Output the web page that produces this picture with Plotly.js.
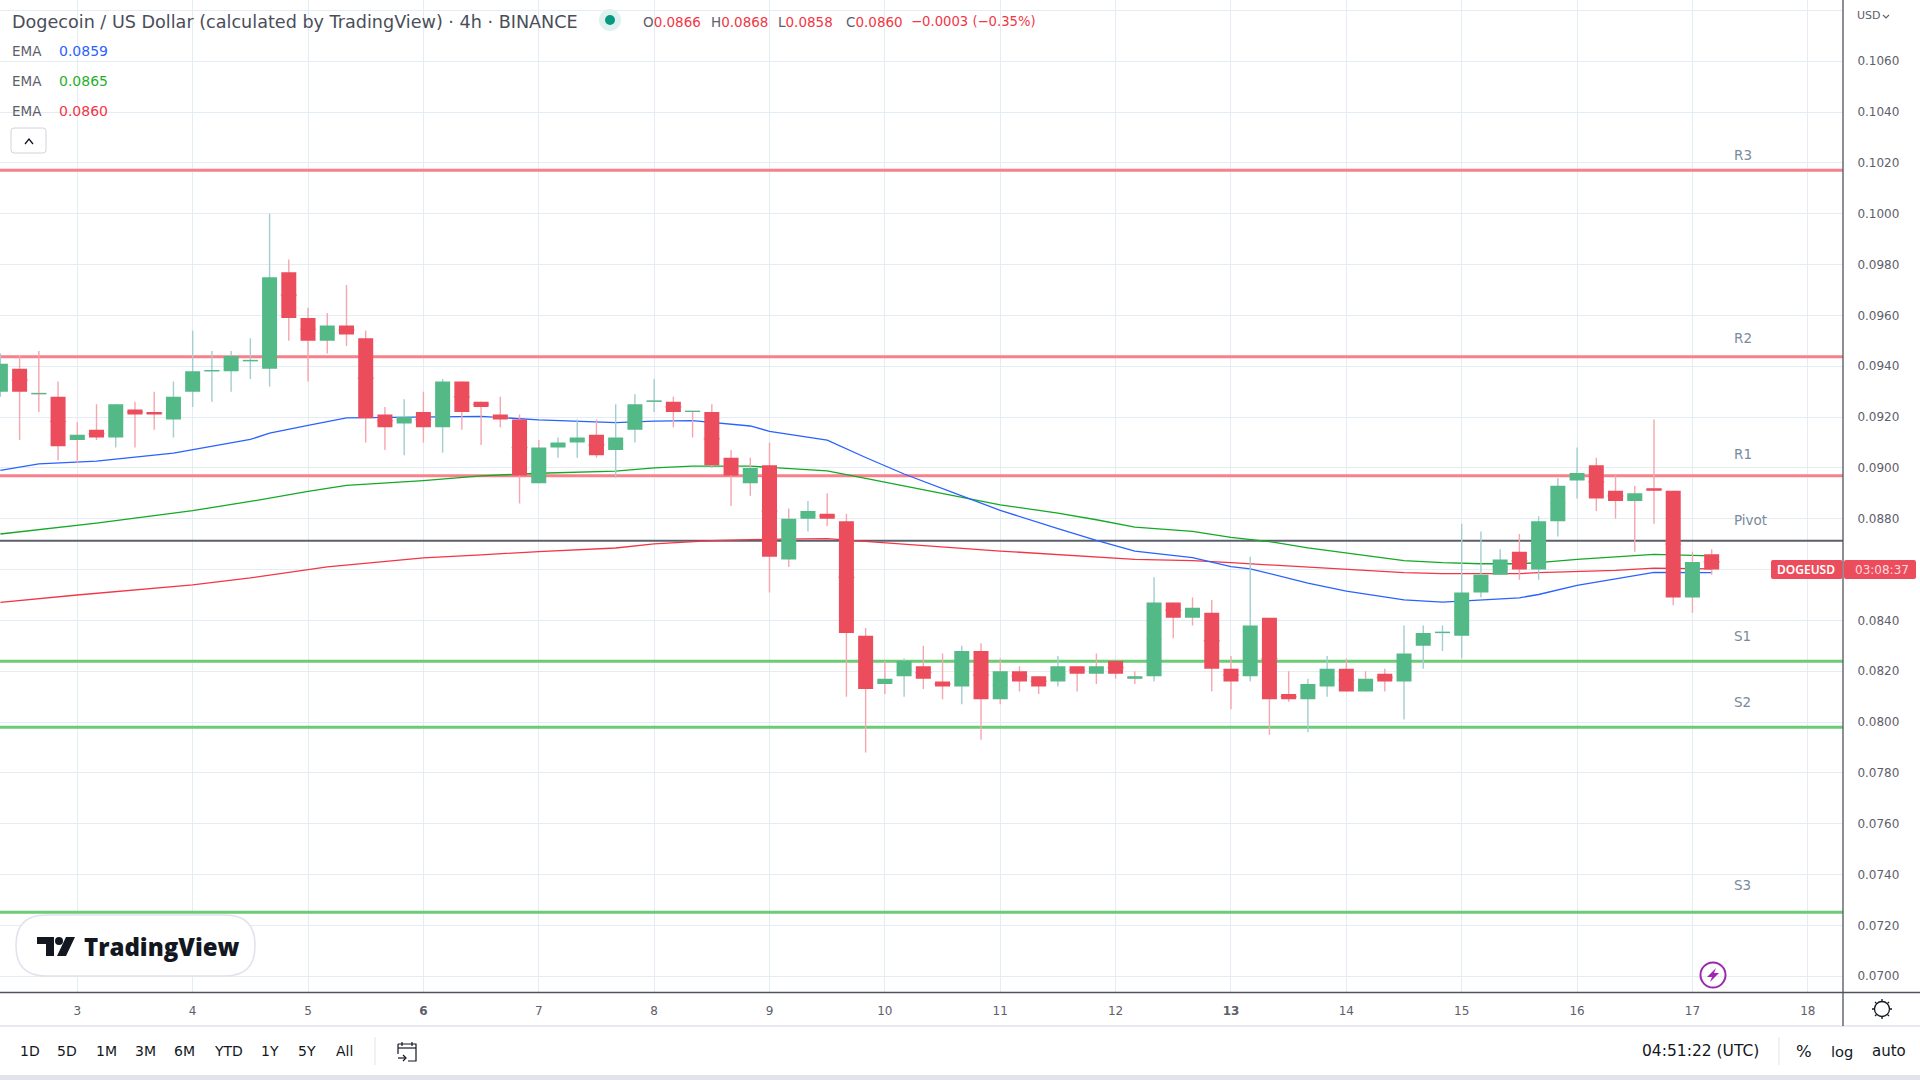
<!DOCTYPE html>
<html><head><meta charset="utf-8">
<script src="https://cdn.plot.ly/plotly-3.0.1.min.js"></script>
<style>html,body{margin:0;padding:0;background:#fff;overflow:hidden}</style>
</head><body><div id="chart" style="width:1920px;height:1080px"></div>
<script>
const firstCandleDay = 2 + 1/3;
const open  = [.0930,.0939,.0929,.0928,.0911,.0915,.0912,.0923,.0922,.0919,.0930,.0938,.0938,.0942,.0939,.0977,.0959,.0950,.0956,.0951,.0921,.09175,.0922,.0916,.0934,.0926,.0921,.0919,.0894,.0908,.0910,.0913,.0907,.0915,.0926,.0926,.0922,.0922,.0904,.0894,.0901,.0864,.0880,.0882,.0879,.0834,.0815,.0818,.0822,.0816,.0814,.0828,.0809,.0820,.0818,.0816,.0822,.0819,.0824,.0817,.0818,.0847,.0841,.0843,.0821,.0818,.0841,.0811,.0809,.0814,.0821,.0812,.0819,.0816,.0830,.0835,.0834,.0851,.0858,.0867,.0860,.0879,.0895,.0901,.0891,.0887,.0892,.0891,.0849,.0866];
const high  = [.0945,.0944,.0946,.0934,.0918,.0925,.0925,.0926,.0930,.0934,.0954,.0946,.0946,.0951,.1000,.0982,.0963,.0961,.0972,.0954,.0924,.0927,.0930,.0935,.0934,.0926,.0928,.0921,.0911,.0912,.0919,.0919,.0925,.0929,.0935,.0928,.09225,.0925,.0907,.0904,.0910,.0884,.0887,.0890,.0882,.0837,.0824,.0825,.0830,.0827,.0830,.0831,.0825,.0822,.0818,.0826,.0822,.0827,.0824,.0820,.0857,.0847,.0849,.0848,.0826,.0865,.0841,.0820,.0817,.0826,.0825,.0820,.0821,.0838,.0838,.0838,.0878,.0875,.0868,.0874,.0881,.0896,.0908,.0904,.0897,.0893,.0919,.0891,.0867,.0868];
const low   = [.0928,.0911,.0922,.0903,.0902,.0911,.0908,.0908,.0915,.0912,.0924,.0926,.0930,.0935,.0932,.0950,.0934,.0945,.0948,.0910,.0907,.0905,.0910,.0906,.0915,.0909,.0916,.0886,.0894,.0904,.0904,.0904,.0896,.0910,.0922,.0916,.0912,.0900,.0885,.0889,.0851,.0861,.0875,.0877,.0810,.0788,.0811,.0810,.0813,.0809,.0807,.0793,.0807,.0812,.0811,.0814,.0812,.0815,.0817,.0815,.0816,.0833,.0838,.0812,.0805,.0816,.0795,.0808,.0796,.0810,.0812,.0812,.0812,.0801,.0821,.0828,.0825,.0849,.0858,.0856,.0856,.0873,.0888,.0883,.0880,.0867,.0878,.0846,.0843,.0858];
const close = [.0941,.0930,.09295,.09085,.0913,.0912,.0925,.0921,.0921,.0928,.0938,.09385,.0944,.09425,.0975,.0959,.0950,.0956,.09525,.09195,.0916,.0920,.0916,.0934,.0922,.0924,.0919,.0897,.0908,.0910,.0912,.0905,.0912,.0925,.09265,.0922,.09225,.0901,.0897,.0900,.0865,.0880,.0883,.0880,.0835,.0813,.0817,.0824,.0817,.0814,.0828,.0809,.0820,.0816,.0814,.0822,.0819,.0822,.0819,.0818,.0847,.0841,.0845,.0821,.0816,.0838,.0809,.0809,.0815,.0821,.0812,.0817,.0816,.0827,.0835,.08355,.0851,.0858,.0864,.0860,.0879,.0893,.0898,.0888,.0887,.0890,.0891,.0849,.0863,.0860];

const blueEmaCandle  = [0,2,5,9,13,14,16,18,25,28,32,34,36,39,40,43,45,47,50,52,55,57,59,62,64,65,68,70,73,75,79,80,82,84,86,89];
const blueEmaValue   = [.0899,.09016,.09027,.09058,.09112,.09137,.09167,.09197,.09203,.09189,.09178,.09184,.09186,.09165,.09144,.09109,.09041,.08976,.0889,.08833,.08761,.08715,.08673,.08647,.08612,.08603,.08547,.08515,.08481,.08472,.08489,.08502,.08538,.08564,.08589,.08588];
const greenEmaCandle = [0,5,10,13,16,18,22,25,28,32,34,36,39,43,45,46,50,52,55,57,59,62,64,66,68,70,73,75,77,79,80,82,84,86,89];
const greenEmaValue  = [.0874,.08783,.08832,.08868,.08908,.08931,.0895,.08969,.08979,.08987,.09,.09007,.09007,.08988,.08959,.08944,.08887,.08855,.08822,.08796,.08767,.0875,.08727,.0871,.08685,.08665,.08635,.08627,.08623,.08623,.08627,.0864,.08649,.0866,.08654];
const redEmaCandle   = [0,4,10,13,17,22,25,28,32,34,37,39,43,46,50,52,59,62,64,70,73,75,79,80,84,86,89];
const redEmaValue    = [.08471,.0850,.0854,.08567,.08611,.08646,.08658,.08671,.08685,.08701,.08714,.08718,.08722,.08706,.08685,.08673,.0864,.08635,.08627,.0860,.08588,.08584,.08584,.08588,.08597,.08606,.08603];

const pivotNames  = ['R3','R2','R1','Pivot','S1','S2','S3'];
const pivotValues = [.10171,.09437,.08969,.08713,.08239,.07980,.07252];
const pivotColors = ['#f7808a','#f7808a','#f7808a','#5d606b','#6ccb75','#6ccb75','#6ccb75'];

const priceTicks  = [.07,.072,.074,.076,.078,.08,.082,.084,.086,.088,.09,.092,.094,.096,.098,.1,.102,.104,.106,.108];
const priceLabels = ['0.0700','0.0720','0.0740','0.0760','0.0780','0.0800','0.0820','0.0840','','0.0880','0.0900','0.0920','0.0940','0.0960','0.0980','0.1000','0.1020','0.1040','0.1060',''];
const dayTicks    = [3,4,5,6,7,8,9,10,11,12,13,14,15,16,17,18];
const dayLabels   = ['3','4','5','<b>6</b>','7','8','9','10','11','12','<b>13</b>','14','15','16','17','18'];
const rangeButtons = ['1D','5D','1M','3M','6M','YTD','1Y','5Y','All'];

const W=1920,H=1080,PW=1843,PH=992;
const XRANGE=[2.330,18.305], YRANGE=[.06938,.10841];
const UI='"DejaVu Sans", sans-serif', AX='"DejaVu Sans", sans-serif';
const px=x=>x/PW, py=y=>1-y/PH;
const candleX=open.map((_,i)=>firstCandleDay+i/6);
const emaX=idx=>idx.map(i=>firstCandleDay+i/6);

const candleBase={type:'candlestick',x:candleX,high,low,xaxis:'x',yaxis:'y2',hoverinfo:'skip',whiskerwidth:0,showlegend:false};
// Wick layer: the box collapses to the middle of the body, so only the wick shows past the body layer on top.
const bodyMid=open.map((o,i)=>(o+close[i])/2);
const wicks=Object.assign({},candleBase,{
  open:bodyMid.map((m,i)=>close[i]>=open[i]?m:m+1e-6),close:bodyMid,
  increasing:{line:{color:'#a3cdd0',width:1.4},fillcolor:'#a3cdd0'},
  decreasing:{line:{color:'#f5a6ae',width:1.4},fillcolor:'#f5a6ae'}});
const bodies=Object.assign({},candleBase,{open,close,
  increasing:{line:{color:'#53b987',width:0},fillcolor:'#53b987'},
  decreasing:{line:{color:'#eb4d5c',width:0},fillcolor:'#eb4d5c'}});

const pivotTraces=pivotValues.map((v,i)=>({type:'scatter',mode:'lines',x:XRANGE,y:[v,v],line:{color:pivotColors[i],width:i===3?2:3},hoverinfo:'skip',showlegend:false}));
const ema=(xs,ys,c)=>({type:'scatter',mode:'lines',x:emaX(xs),y:ys,line:{color:c,width:1.3},hoverinfo:'skip',showlegend:false});

const ann=[];
function note(text,x,y,size,color,opt){ann.push(Object.assign({text,x:px(x),y:py(y),xref:'paper',yref:'paper',xanchor:'left',yanchor:'middle',showarrow:false,font:{family:UI,size,color},borderpad:0},opt||{}));}
const center={xanchor:'center'};

note('Dogecoin / US Dollar (calculated by TradingView) · 4h · BINANCE',11,21.5,17.6,'#4a4e59');
const red='#f23645', lab='#5d606b';
[['O','0.0866',642],['H','0.0868',710],['L','0.0858',777],['C','0.0860',845]].forEach(a=>note(`<span style="color:${lab}">${a[0]}</span>${a[1]}`,a[2],21.5,13.5,red));
note('−0.0003 (−0.35%)',910,21.5,13.2,red);
[['0.0859','#2962ff',51],['0.0865','#1fb12c',81],['0.0860',red,111]].forEach(a=>{note('EMA',11,a[2],13.5,lab);note(a[0],58,a[2],14,a[1]);});
const pivotLabelY=[155,338,454,520,636,702,885];
pivotNames.forEach((n,i)=>note(n,1733,pivotLabelY[i],13.5,'#7a8a9c'));
note('DOGEUSD',1806,569.5,12,'#fff',Object.assign({font:{family:'"Noto Sans", sans-serif',size:12,color:'#fff',weight:600}},center));
note('03:08:37',1882,569.5,12,'#ffd9dd',center);
note('USD',1856,16,11,lab);
note('TradingView',83,946,24,'#131722',{font:{family:'"Open Sans", sans-serif',size:24,color:'#131722',weight:800}});
const btnX=[29.5,67,106.5,145,184,228,270,307,344];
rangeButtons.forEach((b,i)=>note(b,btnX[i],1051,14,'#131722',center));
note('04:51:22 (UTC)',1700,1051,15.5,'#131722',center);
note('%',1804,1051,16.5,'#131722',center);
note('log',1842,1051,14.7,'#131722',center);
note('auto',1889,1051,15,'#131722',center);

const shp=[];
const box=(x0,y0,x1,y1,fill,line,lw)=>shp.push({type:'rect',xref:'paper',yref:'paper',x0:px(x0),x1:px(x1),y0:py(y0),y1:py(y1),fillcolor:fill,line:{color:line||fill,width:lw||0},layer:'above'});
const seg=(x0,y0,x1,y1,c,w)=>shp.push({type:'line',xref:'paper',yref:'paper',x0:px(x0),x1:px(x1),y0:py(y0),y1:py(y1),line:{color:c,width:w},layer:'above'});
const circ=(cx,cy,r,fill,line,lw,ry)=>shp.push({type:'circle',xref:'paper',yref:'paper',x0:px(cx-r),x1:px(cx+r),y0:py(cy-(ry||r)),y1:py(cy+(ry||r)),fillcolor:fill,line:{color:line||fill,width:lw||0},layer:'above'});
const poly=(pts,fill,line,lw,closed)=>shp.push({type:'path',xref:'paper',yref:'paper',path:'M'+pts.map(p=>px(p[0])+','+py(p[1])).join('L')+(closed===false?'':'Z'),fillcolor:fill,line:{color:line||fill,width:lw||0},layer:'above'});
const round=(x0,y0,x1,y1,r,fill,line,lw)=>{
  const a=(x,y)=>px(x)+','+py(y);
  shp.push({type:'path',xref:'paper',yref:'paper',fillcolor:fill,line:{color:line||fill,width:lw||0},layer:'above',
   path:`M${a(x0+r,y0)}L${a(x1-r,y0)}Q${a(x1,y0)} ${a(x1,y0+r)}L${a(x1,y1-r)}Q${a(x1,y1)} ${a(x1-r,y1)}L${a(x0+r,y1)}Q${a(x0,y1)} ${a(x0,y1-r)}L${a(x0,y0+r)}Q${a(x0,y0)} ${a(x0+r,y0)}Z`});};

box(0,1075,1920,1080,'#e0e3eb');
seg(0,1026,1920,1026,'#e0e3eb',1.5);
seg(0,992.5,1920,992.5,'#50535e',1.3);
seg(1843,0,1843,1026,'#50535e',1.3);
seg(375,1037,375,1065,'#e0e3eb',1);
seg(1779,1037,1779,1065,'#e0e3eb',1);
round(1771,560,1842.5,579,2,'#eb4d5c');
round(1844,560,1916,579,2,'#eb4d5c');
circ(610,20,11,'#dff2ef');
circ(610,20,5,'#089981');
round(11,128,46,153,3,'#ffffff','#d1d4dc',1);
poly([[25,144],[29,139],[33,144]],'rgba(0,0,0,0)','#131722',1.3,false);
poly([[1883,15],[1886,18],[1889,15]],'rgba(0,0,0,0)',lab,1.1,false);
round(16,915,255,976,30,'#ffffff','#e0e3eb',1.5);
poly([[37,937],[54,937],[54,956],[46,956],[46,944],[37,944]],'#131722');
circ(59,941,4,'#131722');
poly([[66,937],[75,937],[66,956],[57,956]],'#131722');
circ(1713,975,12.5,'rgba(255,255,255,0)','#9c27b0',2);
poly([[1716,968],[1707,977],[1712,977],[1710,982],[1719,973],[1714,973]],'#9c27b0');
circ(1882,1009,7.5,'rgba(255,255,255,0)','#131722',1.3);
[[0,-10,0,-8],[0,8,0,10],[-10,0,-8,0],[8,0,10,0],[-7,-7,-5.6,-5.6],[7,7,5.6,5.6],[-7,7,-5.6,5.6],[7,-7,5.6,-5.6]].forEach(s=>seg(1882+s[0],1009+s[1],1882+s[2],1009+s[3],'#131722',1.3));
poly([[398,1044],[416,1044],[416,1061],[408,1061]],'rgba(0,0,0,0)','#131722',1.2,false);
poly([[398,1054],[398,1044]],'rgba(0,0,0,0)','#131722',1.2,false);
seg(398,1048,416,1048,'#131722',1.2);
seg(402,1042,402,1046,'#131722',1.2);
seg(412,1042,412,1046,'#131722',1.2);
seg(398,1058,405,1058,'#131722',1.2);
poly([[403,1055],[406,1058],[403,1061]],'rgba(0,0,0,0)','#131722',1.2,false);

const layout={width:W,height:H,margin:{l:0,r:W-PW,t:0,b:H-PH,pad:0},paper_bgcolor:'#fff',plot_bgcolor:'#fff',showlegend:false,hovermode:false,boxgap:0.22,boxgroupgap:0,
 xaxis:{range:XRANGE,type:'linear',tickmode:'array',tickvals:dayTicks,ticktext:dayLabels,showgrid:true,gridcolor:'#e3edf3',gridwidth:1,zeroline:false,ticks:'outside',ticklen:8,tickcolor:'rgba(0,0,0,0)',tickfont:{family:AX,size:12,color:lab},rangeslider:{visible:false},fixedrange:true},
 yaxis:{range:YRANGE,side:'right',tickmode:'array',tickvals:priceTicks,ticktext:priceLabels,showgrid:true,gridcolor:'#e3edf3',gridwidth:1,zeroline:false,ticks:'outside',ticklen:11,tickcolor:'rgba(0,0,0,0)',tickfont:{family:AX,size:12,color:lab},fixedrange:true},
 yaxis2:{range:YRANGE,overlaying:'y',side:'right',visible:false,showgrid:false,zeroline:false,fixedrange:true},
 annotations:ann,shapes:shp};

Plotly.newPlot('chart',[...pivotTraces,ema(redEmaCandle,redEmaValue,'#f23645'),ema(greenEmaCandle,greenEmaValue,'#13a925'),ema(blueEmaCandle,blueEmaValue,'#2962ff'),wicks,bodies],layout,{displayModeBar:false,staticPlot:true});
</script></body></html>
